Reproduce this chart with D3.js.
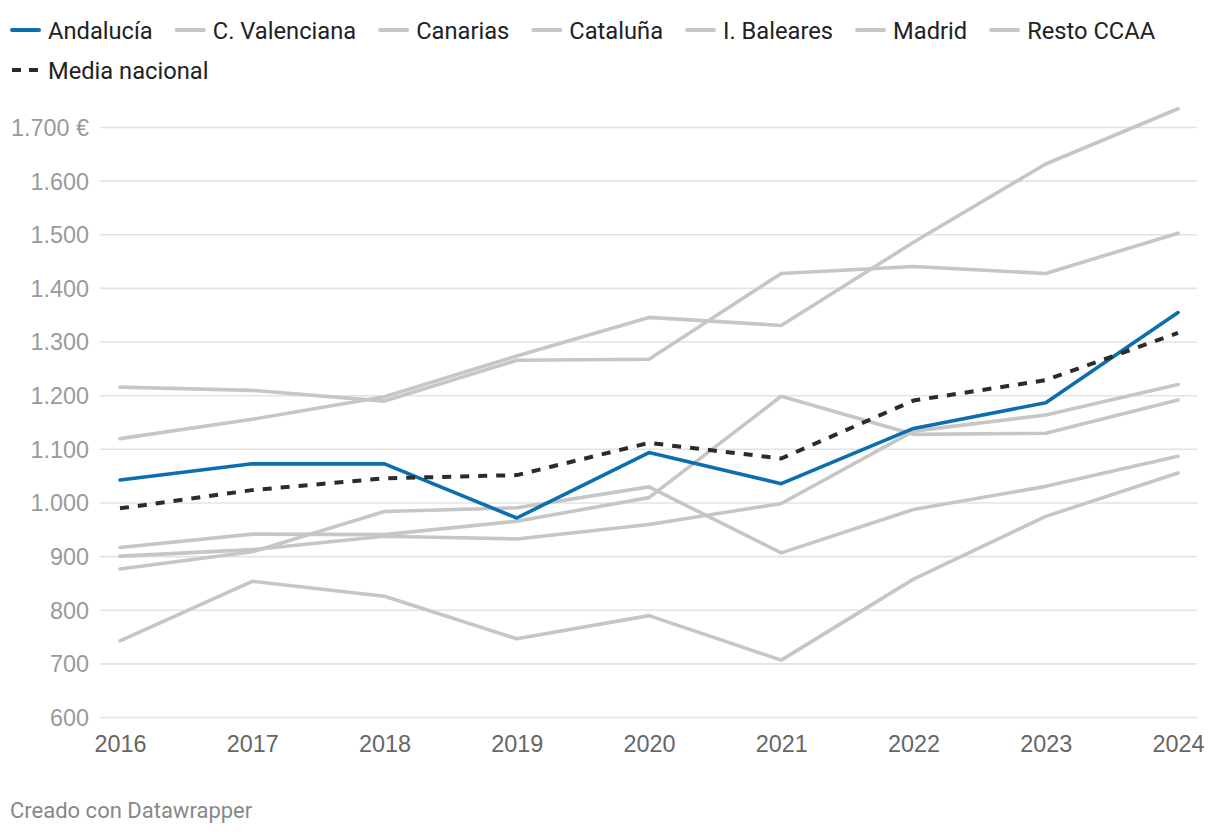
<!DOCTYPE html>
<html>
<head>
<meta charset="utf-8">
<script src="https://cdn.jsdelivr.net/npm/d3@7"></script>
<style>
  html, body { margin: 0; padding: 0; background: #fff; }
  svg { display: block; font-family: Roboto, "Noto Sans", sans-serif; }
</style>
</head>
<body>
<svg id="chart" width="1220" height="834"></svg>
<script>
const years = [2016, 2017, 2018, 2019, 2020, 2021, 2022, 2023, 2024];

const andalucia      = [1042, 1072, 1072, 971, 1093, 1035, 1138, 1186, 1354];
const cValenciana    = [900, 912, 937, 932, 959, 998, 1133, 1163, 1220];
const canarias       = [742, 853, 825, 746, 789, 706, 857, 974, 1055];
const cataluna       = [916, 941, 940, 965, 1009, 1198, 1127, 1129, 1191];
const iBaleares      = [1215, 1209, 1189, 1265, 1267, 1427, 1440, 1427, 1502];
const madrid         = [1119, 1155, 1197, 1273, 1345, 1330, 1485, 1631, 1734];
const restoCCAA      = [876, 908, 983, 990, 1029, 906, 987, 1030, 1086];
const mediaNacional  = [989, 1023, 1045, 1051, 1111, 1082, 1190, 1228, 1316];

const yTicks = [600, 700, 800, 900, 1000, 1100, 1200, 1300, 1400, 1500, 1600, 1700];

const seriesNames = ["Andalucía", "C. Valenciana", "Canarias", "Cataluña", "I. Baleares", "Madrid", "Resto CCAA", "Media nacional"];
const seriesValues = [andalucia, cValenciana, canarias, cataluna, iBaleares, madrid, restoCCAA, mediaNacional];

const BLUE = "#0b6eae", GRAY = "#c6c6c6", DARK = "#2b2b2b";
const styleOf = name => name === "Andalucía" ? {color: BLUE, dash: null}
  : name === "Media nacional" ? {color: DARK, dash: "9,9"}
  : {color: GRAY, dash: null};

const series = seriesNames.map((n, i) => ({
  name: n,
  values: years.map((y, j) => ({year: y, value: seriesValues[i][j]})),
  ...styleOf(n)
}));

const svg = d3.select("#chart");
const fmt = v => d3.format(",")(v).replace(/,/g, ".");
const FS = 23.4;

const x = d3.scalePoint().domain(years).range([120, 1178]);
const y = d3.scaleLinear().domain([600, 1700]).range([717, 127]);

// gridlines + y labels
const yAxis = d3.axisLeft(y).tickValues(yTicks)
  .tickSize(-(1197 - 100))
  .tickPadding(11)
  .tickFormat(v => v === 1700 ? fmt(v) + " €" : fmt(v));
const gy = svg.append("g").attr("transform", "translate(100,0)").call(yAxis);
gy.select(".domain").remove();
gy.selectAll(".tick line").attr("stroke", "#e3e3e3").attr("stroke-width", 1.6);
gy.selectAll(".tick text").attr("fill", "#9a9a9a").attr("font-size", FS).attr("x", -11).attr("dy", "0.36em");

// x labels
const xAxis = d3.axisBottom(x).tickSize(0).tickPadding(0);
const gx = svg.append("g").attr("transform", "translate(0,727)").call(xAxis);
gx.select(".domain").remove();
gx.selectAll(".tick text").attr("fill", "#666").attr("font-size", FS).attr("dy", "0.71em").attr("y", 8);

// lines
const line = d3.line().x(d => x(d.year)).y(d => y(d.value));
const order = [1, 2, 3, 4, 5, 6, 0, 7];
svg.append("g").selectAll("path")
  .data(order.map(i => series[i]))
  .join("path")
  .attr("d", d => line(d.values))
  .attr("fill", "none")
  .attr("stroke", d => d.color)
  .attr("stroke-width", d => d.name === "Media nacional" ? 4 : 3.6)
  .attr("stroke-dasharray", d => d.dash)
  .attr("stroke-linejoin", "round")
  .attr("stroke-linecap", d => d.dash ? "butt" : "round");

// legend
const legend = svg.append("g");
let lx = 10;
series.forEach((s, i) => {
  const row = s.name === "Media nacional" ? 1 : 0;
  if (row === 1) lx = 10;
  const ly = row === 0 ? 30 : 70;
  const g = legend.append("g");
  g.append("line")
    .attr("x1", lx + 2).attr("x2", lx + 29)
    .attr("y1", ly).attr("y2", ly)
    .attr("stroke", s.color)
    .attr("stroke-width", 4)
    .attr("stroke-linecap", s.dash ? "butt" : "round")
    .attr("stroke-dasharray", s.dash ? "9,8" : null);
  const t = g.append("text")
    .attr("x", lx + 38).attr("y", ly)
    .attr("dy", "0.36em")
    .attr("font-size", 23.7)
    .attr("fill", "#222")
    .text(s.name);
  lx = lx + 38 + t.node().getComputedTextLength() + 22;
});

// footer
svg.append("text")
  .attr("x", 10).attr("y", 818)
  .attr("font-size", 22)
  .attr("fill", "#888")
  .text("Creado con Datawrapper");
</script>
</body>
</html>
